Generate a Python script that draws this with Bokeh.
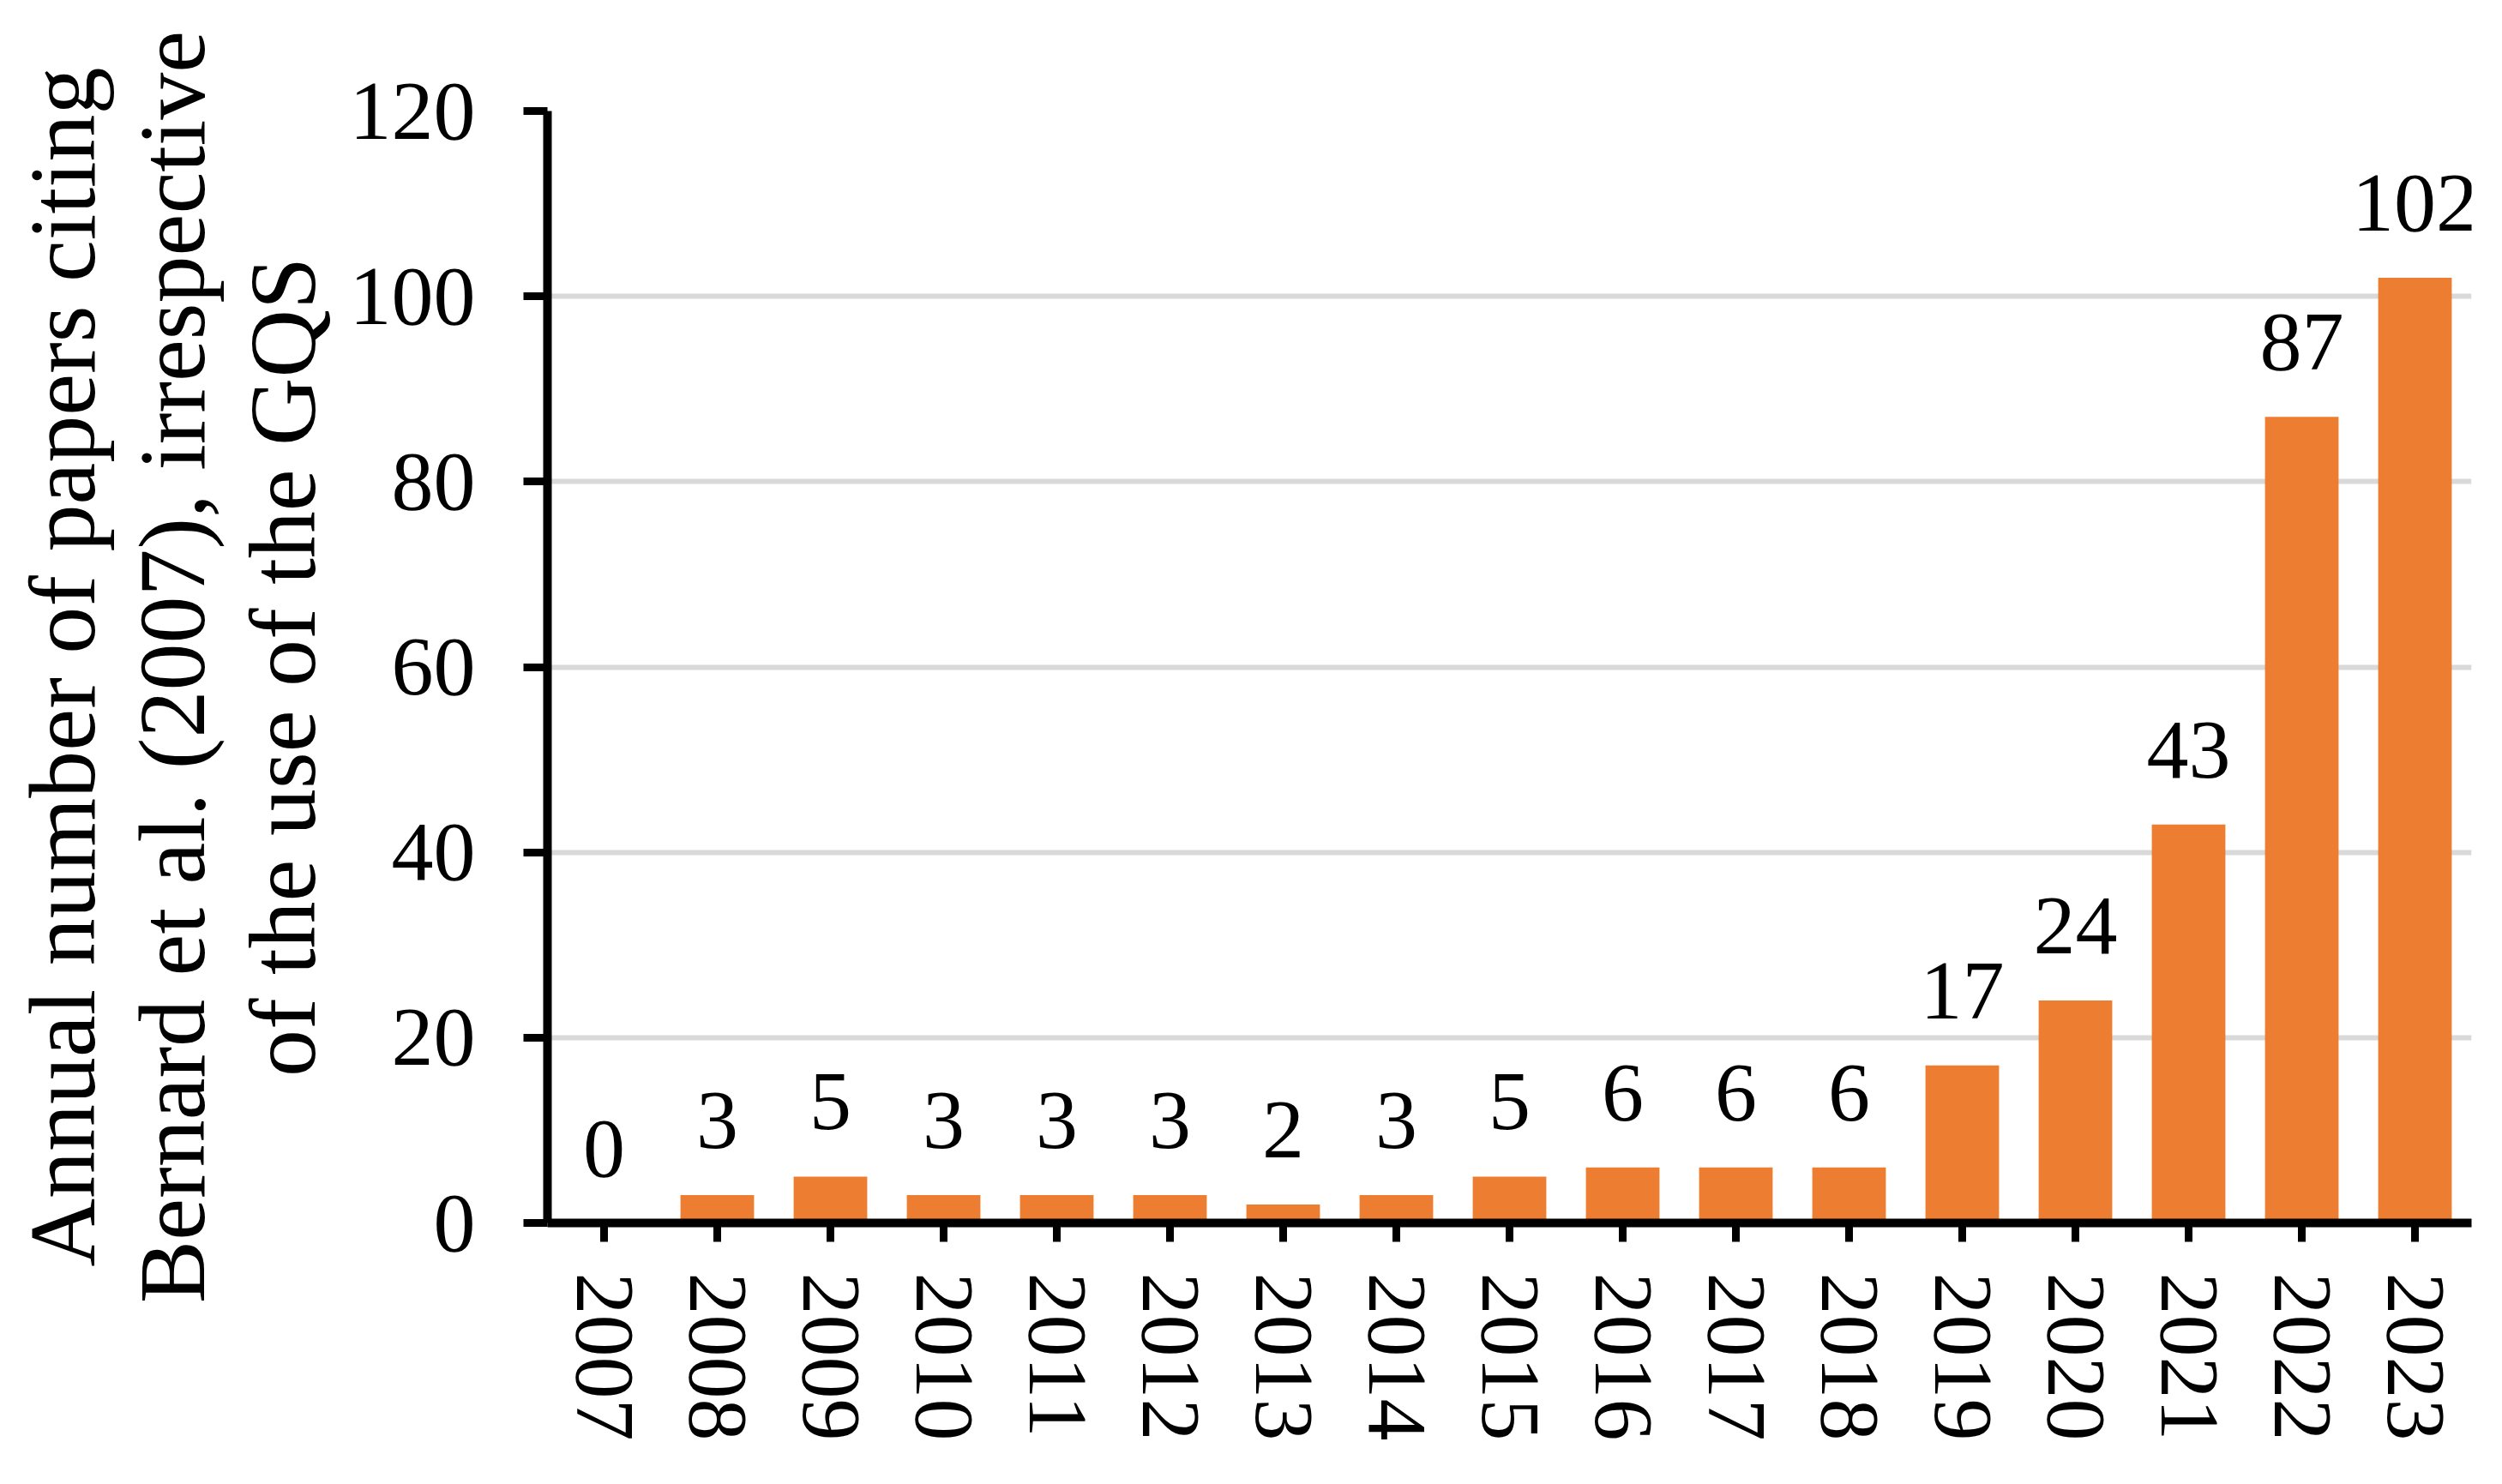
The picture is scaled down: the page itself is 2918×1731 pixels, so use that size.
from bokeh.plotting import figure
from bokeh.models import ColumnDataSource, FactorRange, Range1d, LabelSet, SingleIntervalTicker
from bokeh.embed import file_html
from bokeh.resources import INLINE

# data
years = ["2007", "2008", "2009", "2010", "2011", "2012", "2013", "2014", "2015",
         "2016", "2017", "2018", "2019", "2020", "2021", "2022", "2023"]
papers = [0, 3, 5, 3, 3, 3, 2, 3, 5, 6, 6, 6, 17, 24, 43, 87, 102]
y_label = "Annual number of papers citing\nBernard et al. (2007), irrespective\nof the use of the GQS"

FONT = "Liberation Serif"
ORANGE = "#ED7D31"

src = ColumnDataSource(data=dict(year=years, n=papers, txt=[str(v) for v in papers]))

p = figure(
    x_range=FactorRange(*years),
    y_range=Range1d(0, 120),
    frame_width=2244,
    frame_height=1297,
    min_border_left=638,
    min_border_right=20,
    min_border_top=129,
    min_border_bottom=280,
    output_backend="svg",
    toolbar_location=None,
    tools="",
)
p.outline_line_color = None
p.background_fill_color = "white"

p.vbar(x="year", top="n", width=0.65, source=src, fill_color=ORANGE, line_color=None)

labels = LabelSet(x="year", y="n", text="txt", source=src, y_offset=55,
                  text_align="center", text_baseline="alphabetic",
                  text_font=FONT, text_font_size="98px", text_color="black")
p.add_layout(labels)

# grid
p.xgrid.grid_line_color = None
p.ygrid.grid_line_color = "#D9D9D9"
p.ygrid.grid_line_width = 6
p.yaxis.ticker = SingleIntervalTicker(interval=20)

# axes
for ax in (p.xaxis, p.yaxis):
    ax.axis_line_color = "black"
    ax.axis_line_width = 10
    ax.major_tick_line_color = "black"
    ax.major_tick_line_width = 9
    ax.major_tick_in = 0
    ax.minor_tick_line_color = None
    ax.major_label_text_font = FONT
    ax.major_label_text_font_size = "98px"
    ax.major_label_text_color = "black"

p.yaxis.major_tick_out = 28
p.yaxis.major_label_standoff = 56
p.xaxis.major_tick_out = 22
p.xaxis.major_label_standoff = 36
p.xaxis.major_label_orientation = "vertical"

p.yaxis.axis_label = y_label
p.yaxis.axis_label_text_font = FONT
p.yaxis.axis_label_text_font_size = "110px"
p.yaxis.axis_label_text_font_style = "normal"
p.yaxis.axis_label_text_color = "black"
p.yaxis.axis_label_text_line_height = 1.05
p.yaxis.axis_label_standoff = 14

open("out.html", "w").write(file_html(p, INLINE))
